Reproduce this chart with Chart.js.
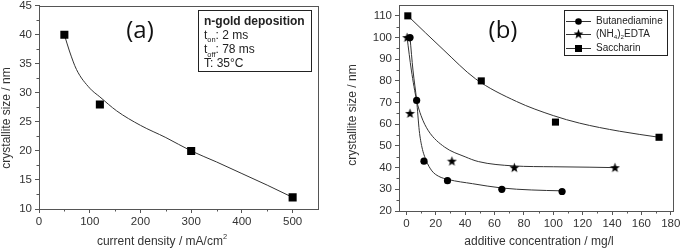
<!DOCTYPE html>
<html>
<head>
<meta charset="utf-8">
<script src="https://cdn.jsdelivr.net/npm/chart.js@4.4.0/dist/chart.umd.min.js"></script>
<style>
body { margin:0; background:#fff; width:685px; height:249px; overflow:hidden; position:relative; }
#cha { position:absolute; left:0; top:0; }
#chb { position:absolute; left:340px; top:0; }
</style>
</head>
<body>
<canvas id="cha" width="340" height="249"></canvas>
<canvas id="chb" width="345" height="249"></canvas>
<script>
// (a) crystallite size vs current density
var densX = [50, 120, 300, 500];
var densSize = [40, 28, 20, 12];
// fit curve
var densFitX = [50, 60, 74, 100, 120, 153, 200, 250, 300, 350, 400, 450, 500];
var densFitY = [40, 37.2, 34, 30.8, 29.3, 26.9, 24.4, 22.3, 20, 18.1, 16.1, 14.1, 12];
var aXTicks = [0, 100, 200, 300, 400, 500];
var aYTicks = [10, 15, 20, 25, 30, 35, 40, 45];

// (b) crystallite size vs additive concentration
var seriesNames = ['Butanediamine', '(NH4)2EDTA', 'Saccharin'];
var butX = [2.5, 7, 12, 28, 65, 106];
var butY = [100, 71, 43, 34, 30, 29];
var edtaX = [0.5, 2.5, 31, 73.5, 142];
var edtaY = [100, 65, 43, 40, 40];
var sacX = [1, 51, 101.5, 172];
var sacY = [110, 80, 61, 54];
// fit curves
var butFitX = [2.5, 4.5, 7, 8.8, 10.6, 13.5, 17.4, 22, 28.7, 45, 65, 85, 106];
var butFitY = [100, 85, 71, 57, 49.5, 43.3, 38.5, 36, 34.5, 32.6, 30.6, 29.7, 29.3];
var edtaFitX = [0.5, 3.4, 7, 10, 15, 26, 40, 49, 73, 100, 125, 142];
var edtaFitY = [100, 85, 71, 64, 57, 49.5, 45, 42.8, 40.8, 40.4, 40.2, 40];
var sacFitX = [1, 25, 47, 75, 100, 118, 145, 172];
var sacFitY = [110, 94.5, 81, 70.5, 64, 60.5, 56.8, 54];
var bXTicks = [0, 20, 40, 60, 80, 100, 120, 140, 160, 180];
var bYTicks = [20, 30, 40, 50, 60, 70, 80, 90, 100, 110];

var AXIS = '#555';
var TEXT = '#333';
var tickFont = { family: 'Liberation Sans', size: 11.5 };

function pts(xs, ys) {
  return xs.map(function (x, i) { return { x: x, y: ys[i] }; });
}

// filled five point star for the EDTA series
var star = document.createElement('canvas');
star.width = 11; star.height = 11;
(function () {
  var c = star.getContext('2d');
  c.beginPath();
  for (var i = 0; i < 10; i++) {
    var r = i % 2 ? 2.1 : 5.2;
    var a = -Math.PI / 2 + i * Math.PI / 5;
    var px = 5.5 + r * Math.cos(a), py = 5.8 + r * Math.sin(a);
    if (i) c.lineTo(px, py); else c.moveTo(px, py);
  }
  c.closePath();
  c.fillStyle = '#000';
  c.fill();
})();

// text with sub/superscripts: parts = [[text, 'sub'|'sup'|''], ...]
function rich(ctx, parts, x, y, size, bold, align) {
  var w = 0;
  parts.forEach(function (p) {
    var s = p[1] ? size * 0.62 : size;
    ctx.font = (bold ? 'bold ' : '') + s + 'px "Liberation Sans"';
    w += ctx.measureText(p[0]).width;
  });
  var cx = align === 'center' ? x - w / 2 : x;
  parts.forEach(function (p) {
    var s = p[1] ? size * 0.62 : size;
    ctx.font = (bold ? 'bold ' : '') + s + 'px "Liberation Sans"';
    var dy = p[1] === 'sub' ? size * 0.3 : (p[1] === 'sup' ? -size * 0.42 : 0);
    ctx.fillText(p[0], cx, y + dy);
    cx += ctx.measureText(p[0]).width;
  });
}

function fixTicks(list) {
  return function (s) { s.ticks = list.map(function (v) { return { value: v }; }); };
}

function scaleOpts(min, max, list, size, isX) {
  return {
    type: 'linear', min: min, max: max,
    afterBuildTicks: fixTicks(list),
    afterFit: function (s) {
      if (isX) s.height = size; else s.width = size;
      s.paddingTop = 0; s.paddingBottom = 0; s.paddingLeft = 0; s.paddingRight = 0;
    },
    border: { color: AXIS, width: 1 },
    grid: { drawOnChartArea: false, drawTicks: true, tickLength: 4, color: AXIS },
    ticks: { font: tickFont, color: TEXT, padding: isX ? 2 : 3, maxRotation: 0, autoSkip: false }
  };
}

// frame round the plot and short minor ticks half way between labels
function frame(chart, xt, yt) {
  var ctx = chart.ctx, a = chart.chartArea;
  var sx = chart.scales.x, sy = chart.scales.y;
  ctx.save();
  ctx.strokeStyle = AXIS;
  ctx.lineWidth = 1;
  ctx.strokeRect(Math.round(a.left) + 0.5, Math.round(a.top) + 0.5,
    Math.round(a.right - a.left), Math.round(a.bottom - a.top));
  ctx.beginPath();
  for (var i = 0; i < xt.length - 1; i++) {
    var px = Math.round(sx.getPixelForValue((xt[i] + xt[i + 1]) / 2)) + 0.5;
    ctx.moveTo(px, a.bottom); ctx.lineTo(px, a.bottom + 2.5);
  }
  for (var j = 0; j < yt.length - 1; j++) {
    var py = Math.round(sy.getPixelForValue((yt[j] + yt[j + 1]) / 2)) + 0.5;
    ctx.moveTo(a.left, py); ctx.lineTo(a.left - 2.5, py);
  }
  ctx.stroke();
  ctx.restore();
}

var plotA = {
  id: 'plotA',
  afterDraw: function (chart) {
    var ctx = chart.ctx;
    frame(chart, aXTicks, aYTicks);
    ctx.save();
    ctx.fillStyle = TEXT;
    ctx.textBaseline = 'middle';
    rich(ctx, [['current density / mA/cm', ''], ['2', 'sup']], 162, 242, 12, false, 'center');
    ctx.translate(7, 118);
    ctx.rotate(-Math.PI / 2);
    rich(ctx, [['crystallite size / nm', '']], 0, 0, 12, false, 'center');
    ctx.restore();

    ctx.save();
    ctx.fillStyle = '#111';
    ctx.font = '24px "Open Sans"';
    ctx.textAlign = 'center';
    ctx.textBaseline = 'middle';
    ctx.fillText('(a)', 140, 31);
    // info box
    ctx.strokeStyle = '#222';
    ctx.lineWidth = 1;
    ctx.strokeRect(198.5, 10.5, 113, 61);
    ctx.textAlign = 'left';
    ctx.textBaseline = 'alphabetic';
    ctx.fillStyle = '#222';
    rich(ctx, [['n-gold deposition', '']], 204, 25, 12, true);
    rich(ctx, [['t', ''], ['on', 'sub'], [': 2 ms', '']], 204, 38.5, 12, false);
    rich(ctx, [['t', ''], ['off', 'sub'], [': 78 ms', '']], 204, 53, 12, false);
    rich(ctx, [['T: 35\u00b0C', '']], 204, 67, 12, false);
    ctx.restore();
  }
};

new Chart(document.getElementById('cha'), {
  type: 'scatter',
  data: {
    datasets: [{
      data: pts(densX, densSize),
      pointStyle: 'rect', pointRadius: 5.7, backgroundColor: '#000', borderWidth: 0
    }, {
      data: pts(densFitX, densFitY),
      showLine: true, pointRadius: 0, borderColor: '#333', borderWidth: 1,
      cubicInterpolationMode: 'monotone'
    }]
  },
  options: {
    responsive: false,
    animation: false,
    layout: { padding: { left: 0, right: 22, top: 4, bottom: 0 } },
    plugins: { legend: { display: false }, tooltip: { enabled: false } },
    scales: {
      x: scaleOpts(0, 550, aXTicks, 40, true),
      y: scaleOpts(10, 45, aYTicks, 39, false)
    }
  },
  plugins: [plotA]
});

var marks = [
  { style: 'circle', r: 3.6 },
  { style: star, r: 5 },
  { style: 'rect', r: 5 }
];

var plotB = {
  id: 'plotB',
  afterDraw: function (chart) {
    var ctx = chart.ctx;
    frame(chart, bXTicks, bYTicks);
    ctx.save();
    ctx.fillStyle = TEXT;
    ctx.textBaseline = 'middle';
    rich(ctx, [['additive concentration / mg/l', '']], 199, 242, 12, false, 'center');
    ctx.translate(13, 115);
    ctx.rotate(-Math.PI / 2);
    rich(ctx, [['crystallite size / nm', '']], 0, 0, 12, false, 'center');
    ctx.restore();

    ctx.save();
    ctx.fillStyle = '#111';
    ctx.font = '24px "Open Sans"';
    ctx.textAlign = 'center';
    ctx.textBaseline = 'middle';
    ctx.fillText('(b)', 163, 31);
    // legend
    ctx.strokeStyle = '#222';
    ctx.lineWidth = 1;
    ctx.strokeRect(224.5, 10.5, 103, 45);
    var rows = [20.5, 34, 47.5];
    ctx.textAlign = 'left';
    ctx.textBaseline = 'middle';
    for (var i = 0; i < 3; i++) {
      var y = Math.round(rows[i]) + 0.5;
      ctx.strokeStyle = '#333';
      ctx.beginPath();
      ctx.moveTo(226, y); ctx.lineTo(251, y);
      ctx.stroke();
      ctx.fillStyle = '#000';
      if (i === 0) {
        ctx.beginPath(); ctx.arc(238.5, y, 3.3, 0, Math.PI * 2); ctx.fill();
      } else if (i === 1) {
        ctx.drawImage(star, 233, y - 6);
      } else {
        ctx.fillRect(235, y - 3.5, 7, 7);
      }
      ctx.fillStyle = '#222';
      if (i === 1) {
        rich(ctx, [['(NH', ''], ['4', 'sub'], [')', ''], ['2', 'sub'], ['EDTA', '']], 256, y, 10, false);
      } else {
        rich(ctx, [[seriesNames[i], '']], 256, y, 10, false);
      }
    }
    ctx.restore();
  }
};

var raw = [pts(butX, butY), pts(edtaX, edtaY), pts(sacX, sacY)];
var fits = [pts(butFitX, butFitY), pts(edtaFitX, edtaFitY), pts(sacFitX, sacFitY)];
var dsB = [];
raw.forEach(function (d, i) {
  dsB.push({
    label: seriesNames[i], data: d,
    pointStyle: marks[i].style, pointRadius: marks[i].r,
    backgroundColor: '#000', borderColor: '#000', borderWidth: 0
  });
});
fits.forEach(function (d, i) {
  dsB.push({
    label: seriesNames[i] + ' fit', data: d,
    showLine: true, pointRadius: 0, borderColor: '#333', borderWidth: 1,
    cubicInterpolationMode: 'monotone'
  });
});

new Chart(document.getElementById('chb'), {
  type: 'scatter',
  data: { datasets: dsB },
  options: {
    responsive: false,
    animation: false,
    layout: { padding: { left: 0, right: 12, top: 4, bottom: 0 } },
    plugins: { legend: { display: false }, tooltip: { enabled: false } },
    scales: {
      x: scaleOpts(-5, 181.5, bXTicks, 38, true),
      y: scaleOpts(20, 115, bYTicks, 59, false)
    }
  },
  plugins: [plotB]
});
</script>
</body>
</html>
